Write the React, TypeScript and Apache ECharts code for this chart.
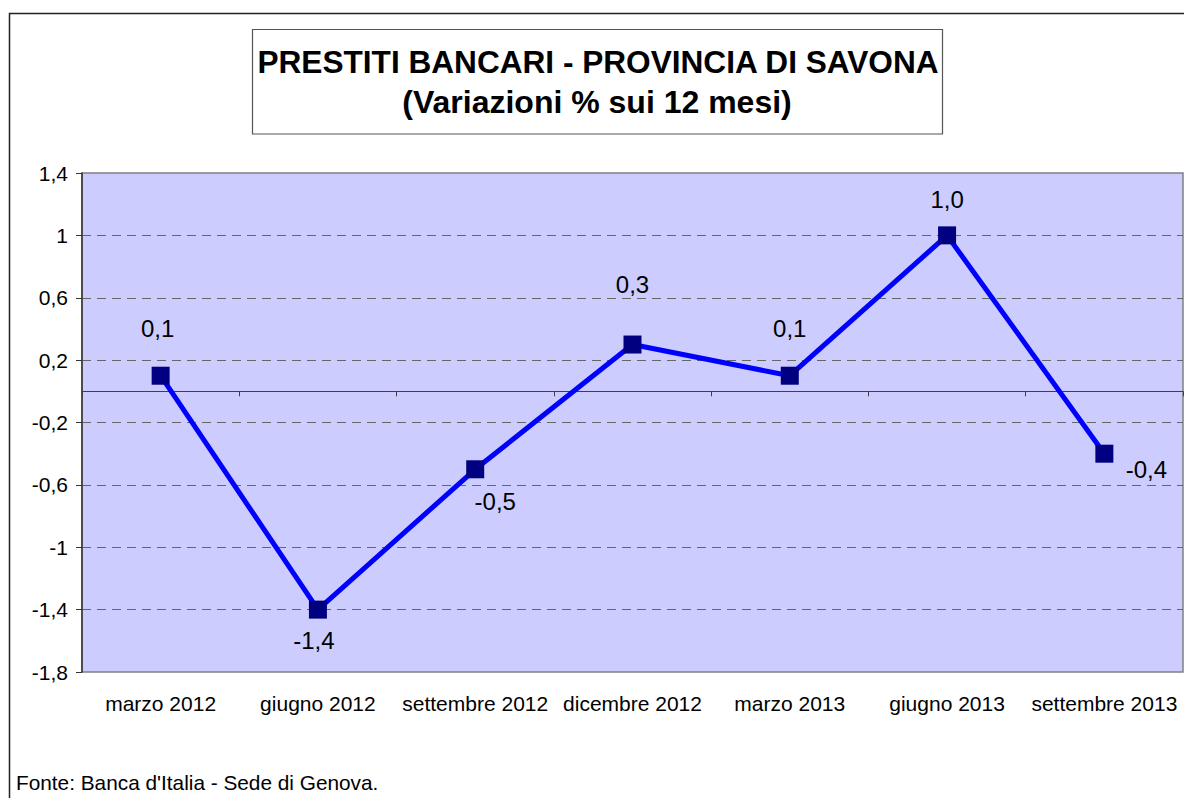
import React, { useEffect, useRef } from "react";
import * as echarts from "echarts";

const categories = [
  "marzo 2012",
  "giugno 2012",
  "settembre 2012",
  "dicembre 2012",
  "marzo 2013",
  "giugno 2013",
  "settembre 2013",
];
const values = [0.1, -1.4, -0.5, 0.3, 0.1, 1.0, -0.4];
// label offsets (placement only)
const labelOffsets: [number, number][] = [
  [-3, -47],
  [-4, 31],
  [20, 32],
  [0, -60],
  [0, -47],
  [0, -36],
  [42, 16],
];
const yMin = -1.8;
const yMax = 1.4;
const yStep = 0.4;
const titleLine1 = "PRESTITI BANCARI - PROVINCIA DI SAVONA";
const titleLine2 = "(Variazioni % sui 12 mesi)";
const footer = "Fonte: Banca d'Italia - Sede di Genova.";

const fmt = (v: number) => (Math.round(v * 10) / 10).toString().replace(".", ",");
const fmt1 = (v: number) => v.toFixed(1).replace(".", ",");

export default function App() {
  const ref = useRef<HTMLDivElement>(null);
  useEffect(() => {
    if (!ref.current) return;
    const chart = echarts.init(ref.current, null, { renderer: "svg" });
    const font = "'Liberation Sans', Arial, sans-serif";
    chart.setOption({
      animation: false,
      textStyle: { fontFamily: font },
      grid: {
        left: 82,
        top: 173,
        right: 1,
        bottom: 126,
        show: true,
        backgroundColor: "#CCCCFF",
        borderColor: "#808080",
        borderWidth: 1.5,
      },
      xAxis: [
        {
          type: "category",
          data: categories,
          position: "bottom",
          boundaryGap: true,
          axisLine: { show: false, onZero: false },
          axisTick: { show: false },
          splitLine: { show: false },
          axisLabel: { fontSize: 21, color: "#000", margin: 21, fontFamily: font, interval: 0 },
        },
        {
          type: "category",
          data: categories,
          position: "bottom",
          boundaryGap: true,
          axisLine: { show: true, onZero: true, lineStyle: { color: "#404040", width: 1 } },
          axisTick: { show: true, length: 5, lineStyle: { color: "#404040", width: 1 } },
          splitLine: { show: false },
          axisLabel: { show: false },
        },
      ],
      yAxis: {
        type: "value",
        min: yMin,
        max: yMax,
        interval: yStep,
        axisLine: { show: true, lineStyle: { color: "#333", width: 1.5 } },
        axisTick: { show: true, length: 6, lineStyle: { color: "#333", width: 1 } },
        axisLabel: { fontSize: 21, color: "#000", margin: 14, formatter: fmt, fontFamily: font },
        splitLine: {
          show: true,
          showMinLine: false,
          showMaxLine: false,
          lineStyle: { color: "#666", width: 1, type: [9, 6] },
        },
      },
      series: [
        {
          type: "line",
          xAxisIndex: 0,
          data: values.map((v, i) => ({
            value: v,
            label: { offset: labelOffsets[i] },
          })),
          lineStyle: { color: "#0000FF", width: 5 },
          symbol: "rect",
          symbolSize: 18,
          itemStyle: { color: "#000080" },
          label: {
            show: true,
            position: "inside",
            fontSize: 24,
            color: "#000",
            fontFamily: font,
            formatter: (p: any) => fmt1(p.value),
          },
          z: 5,
        },
      ],
      graphic: [
        {
          type: "rect",
          shape: { x: 9.5, y: 13.5, width: 1300, height: 900 },
          style: { fill: "none", stroke: "#222", lineWidth: 1.5 },
          silent: true,
        },
        {
          type: "rect",
          shape: { x: 252.5, y: 29.5, width: 690, height: 104.5 },
          style: { fill: "#fff", stroke: "#555", lineWidth: 1.2 },
          silent: true,
        },
        {
          type: "text",
          x: 598,
          y: 62,
          style: {
            text: titleLine1,
            font: `bold 31.6px ${font}`,
            fill: "#000",
            align: "center",
            verticalAlign: "middle",
          },
        },
        {
          type: "text",
          x: 597,
          y: 102,
          style: {
            text: titleLine2,
            font: `bold 32px ${font}`,
            fill: "#000",
            align: "center",
            verticalAlign: "middle",
          },
        },
        {
          type: "text",
          x: 16,
          y: 782,
          style: {
            text: footer,
            font: `20.8px ${font}`,
            fill: "#000",
            align: "left",
            verticalAlign: "middle",
          },
        },
      ],
    });
    return () => chart.dispose();
  }, []);
  return (
    <div
      ref={ref}
      style={{ position: "absolute", left: 0, top: 0, width: 1184, height: 798, background: "#fff" }}
    />
  );
}
